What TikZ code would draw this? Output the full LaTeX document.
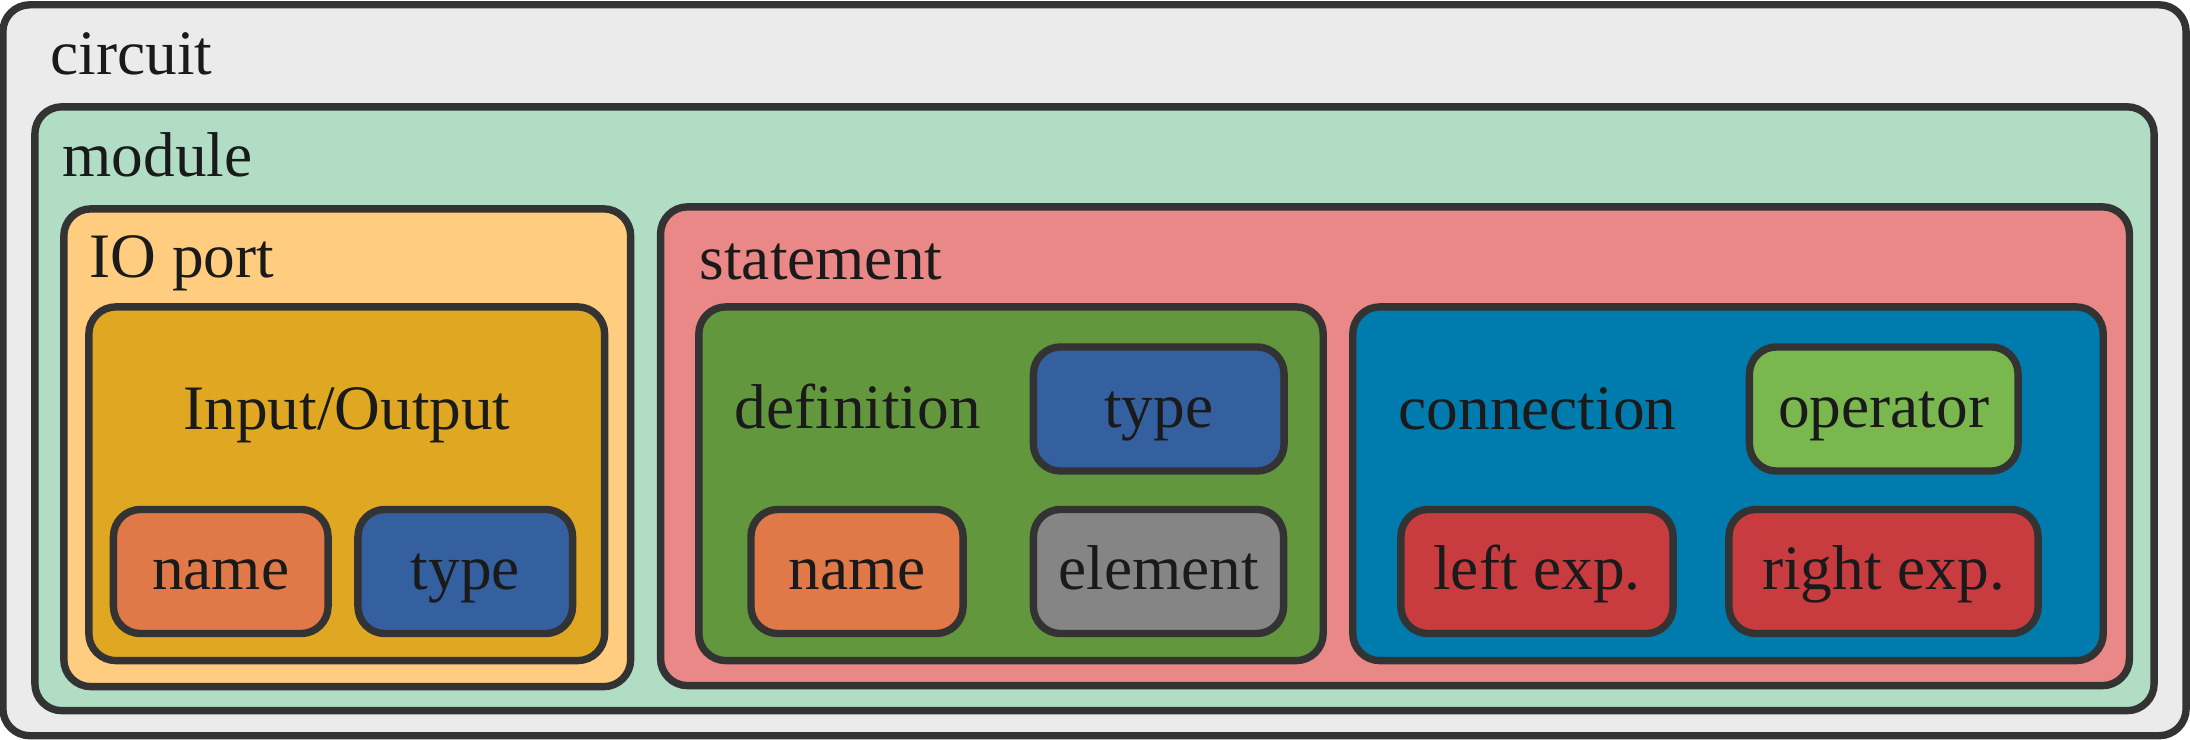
\documentclass[tikz,border=0pt]{standalone}
\usepackage{fontspec}
\setmainfont{Liberation Serif}
\usepackage{xcolor}

\definecolor{edge}{HTML}{333333}
\definecolor{ink}{HTML}{1A1A1A}
\definecolor{cCircuit}{HTML}{EBEBEB}
\definecolor{cModule}{HTML}{B0DDC4}
\definecolor{cPort}{HTML}{FFCC80}
\definecolor{cInOut}{HTML}{E0A822}
\definecolor{cName}{HTML}{E07848}
\definecolor{cType}{HTML}{3560A0}
\definecolor{cStmt}{HTML}{EA8888}
\definecolor{cDef}{HTML}{62973E}
\definecolor{cElem}{HTML}{858585}
\definecolor{cConn}{HTML}{007BAD}
\definecolor{cOper}{HTML}{7AB74E}
\definecolor{cExp}{HTML}{C83C40}

\begin{document}
\begin{tikzpicture}[
    x=0.01cm, y=-0.01cm,
    font=\fontsize{18}{21}\selectfont,
    box/.style={rectangle, draw=edge, line width=2.1pt, rounded corners=0.27cm, inner sep=0pt},
    part/.style={box, minimum height=1.24cm, text height=14.4pt, text depth=4.1pt, text=ink},
    title/.style={anchor=base west, inner sep=0pt, text=ink}
]
\useasboundingbox (0,0) rectangle (2190,740);

% Containers
\node[box, fill=cCircuit, minimum width=21.82cm, minimum height=7.305cm] (circuit) at (1094.5,370.25) {};
\node[box, fill=cModule, minimum width=21.18cm, minimum height=6.035cm] (module) at (1094.5,408.75) {};
\node[box, fill=cPort, minimum width=5.665cm, minimum height=4.775cm] (ioport) at (347.25,447.75) {};
\node[box, fill=cInOut, minimum width=5.155cm, minimum height=3.535cm] (inout) at (346.75,483.75) {};
\node[box, fill=cStmt, minimum width=14.68cm, minimum height=4.785cm] (stmt) at (1395,446.25) {};
\node[box, fill=cDef, minimum width=6.24cm, minimum height=3.535cm] (def) at (1011,483.75) {};
\node[box, fill=cConn, minimum width=7.5cm, minimum height=3.535cm] (conn) at (1728,483.75) {};

% Titles
\node[title] (circuitlbl) at (50,75) {circuit};
\node[title] (modulelbl) at (62,177) {module};
\node[title] (ioportlbl) at (89,278) {IO port};
\node[title] (stmtlbl) at (699,280) {statement};
\node[title, anchor=base] (inoutlbl) at (347,430) {Input/Output};
\node[title] (deflbl) at (734,429) {definition};
\node[title] (connlbl) at (1398,430) {connection};

% Parts
\node[part, fill=cName, minimum width=2.145cm] (ioname) at (220.75,571.5) {name};
\node[part, fill=cType, minimum width=2.145cm] (iotype) at (465.25,571.5) {type};
\node[part, fill=cType, minimum width=2.505cm] (deftype) at (1158.75,409) {type};
\node[part, fill=cName, minimum width=2.12cm] (defname) at (857,571.5) {name};
\node[part, fill=cElem, minimum width=2.5cm] (element) at (1158.5,571.5) {element};
\node[part, fill=cOper, minimum width=2.685cm] (oper) at (1883.75,409) {operator};
\node[part, fill=cExp, minimum width=2.72cm] (leftexp) at (1537,571.5) {left exp.};
\node[part, fill=cExp, minimum width=3.09cm] (rightexp) at (1883.5,571.5) {right exp.};

\end{tikzpicture}
\end{document}
